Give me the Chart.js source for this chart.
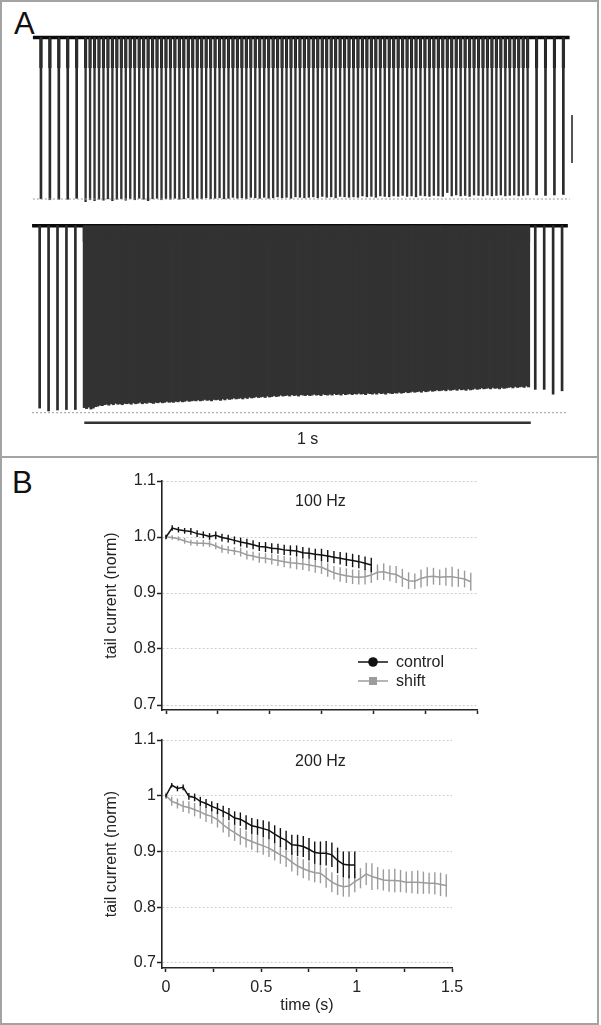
<!DOCTYPE html>
<html><head><meta charset="utf-8">
<script src="https://cdn.jsdelivr.net/npm/chart.js@4.4.0/dist/chart.umd.min.js"></script>
<style>
html,body{margin:0;padding:0;background:#fff;}
#fig{position:relative;width:601px;height:1025px;overflow:hidden;font-family:"Liberation Sans",Arial,sans-serif;}
#frame{position:absolute;left:0;top:0;width:595px;height:1021px;border:2px solid #a3a3a3;}
#divider{position:absolute;left:0;top:456px;width:599px;height:2px;background:#a3a3a3;}
.lbl{position:absolute;font-size:31px;line-height:30px;color:#111;}
canvas{position:absolute;left:0;}
</style></head>
<body>
<div id="fig">
  <div id="frame"></div><div id="divider"></div>
  <div class="lbl" style="left:14px;top:9px">A</div>
  <div class="lbl" style="left:12px;top:468px">B</div>
  <canvas id="a1" width="601" height="215" style="top:0px"></canvas>
  <canvas id="a2" width="601" height="242" style="top:215px"></canvas>
  <canvas id="b1" width="601" height="278" style="top:457px"></canvas>
  <canvas id="b2" width="601" height="305" style="top:720px"></canvas>
</div>
<script>
// ---------------- DATA ----------------
// Panel A: current traces (amplitudes in scale-bar units, baseline = 0)
const periodTop = 0.01;      // 100 Hz train
const periodBottom = 0.005;  // 200 Hz train
const preTimes = [-0.10, -0.08, -0.06, -0.04, -0.02];
const postTimes = [1.01, 1.03, 1.05, 1.07];

const preTop = [-3.36, -3.38, -3.37, -3.37, -3.35];
const trainTop = [
  -3.42,-3.38,-3.40,-3.37,-3.39,-3.36,-3.40,-3.37,-3.36,-3.39,
  -3.36,-3.38,-3.35,-3.37,-3.40,-3.36,-3.35,-3.38,-3.36,-3.37,
  -3.35,-3.37,-3.36,-3.34,-3.37,-3.35,-3.36,-3.34,-3.36,-3.35,
  -3.34,-3.36,-3.35,-3.33,-3.35,-3.34,-3.36,-3.33,-3.34,-3.35,
  -3.33,-3.35,-3.34,-3.32,-3.34,-3.33,-3.35,-3.32,-3.33,-3.34,
  -3.33,-3.32,-3.34,-3.31,-3.33,-3.32,-3.34,-3.31,-3.32,-3.33,
  -3.32,-3.33,-3.30,-3.32,-3.31,-3.33,-3.30,-3.31,-3.32,-3.30,
  -3.31,-3.29,-3.31,-3.30,-3.32,-3.29,-3.30,-3.31,-3.29,-3.30,
  -3.31,-3.23,-3.30,-3.28,-3.30,-3.29,-3.31,-3.28,-3.29,-3.30,
  -3.28,-3.30,-3.29,-3.28,-3.30,-3.29,-3.28,-3.30,-3.29,-3.28
];
const postTop = [-3.28, -3.29, -3.28, -3.27];
const refTop = -3.365;
const tailTop = -0.63;

const preBottom = [-3.80, -3.86, -3.84, -3.83, -3.83];
const trainBottom = [
  -3.79,-3.81,-3.78,-3.82,-3.80,-3.77,-3.76,-3.74,-3.75,-3.73,
  -3.72,-3.74,-3.71,-3.73,-3.70,-3.72,-3.71,-3.73,-3.70,-3.71,
  -3.70,-3.72,-3.69,-3.71,-3.70,-3.68,-3.71,-3.69,-3.70,-3.68,
  -3.69,-3.70,-3.68,-3.69,-3.67,-3.69,-3.68,-3.66,-3.68,-3.67,
  -3.68,-3.66,-3.67,-3.65,-3.67,-3.66,-3.64,-3.66,-3.65,-3.64,
  -3.65,-3.63,-3.65,-3.64,-3.62,-3.64,-3.63,-3.65,-3.62,-3.63,
  -3.62,-3.64,-3.61,-3.63,-3.60,-3.62,-3.61,-3.59,-3.61,-3.60,
  -3.59,-3.61,-3.58,-3.60,-3.57,-3.59,-3.58,-3.56,-3.58,-3.57,
  -3.56,-3.58,-3.55,-3.57,-3.56,-3.54,-3.56,-3.55,-3.53,-3.55,
  -3.54,-3.53,-3.55,-3.52,-3.54,-3.53,-3.55,-3.52,-3.53,-3.54,
  -3.52,-3.54,-3.53,-3.51,-3.53,-3.52,-3.54,-3.51,-3.52,-3.53,
  -3.51,-3.53,-3.50,-3.52,-3.51,-3.53,-3.50,-3.52,-3.51,-3.50,
  -3.52,-3.50,-3.51,-3.49,-3.51,-3.50,-3.52,-3.49,-3.50,-3.51,
  -3.49,-3.51,-3.48,-3.50,-3.49,-3.51,-3.48,-3.49,-3.50,-3.48,
  -3.49,-3.47,-3.49,-3.48,-3.46,-3.48,-3.47,-3.45,-3.47,-3.46,
  -3.45,-3.47,-3.44,-3.46,-3.45,-3.43,-3.45,-3.44,-3.42,-3.44,
  -3.43,-3.42,-3.44,-3.41,-3.43,-3.42,-3.41,-3.43,-3.40,-3.42,
  -3.41,-3.43,-3.40,-3.42,-3.41,-3.39,-3.41,-3.40,-3.38,-3.40,
  -3.39,-3.38,-3.40,-3.37,-3.39,-3.38,-3.40,-3.37,-3.39,-3.38,
  -3.37,-3.36,-3.38,-3.35,-3.37,-3.36,-3.35,-3.37,-3.34,-3.36
];
const postBottom = [-3.41, -3.41, -3.51, -3.44];
const refBottom = -3.896;
const tailBottom = -0.33;

const traceSpanTop = [-0.118, 1.084];
const traceSpanBottom = [-0.117, 1.083];
const currentBar = [-1.615, -2.615];   // one scale unit
const timeBar = [0, 1];                 // 1 s

// Panel B: normalized tail currents
const times = [0,0.03,0.06,0.09,0.12,0.15,0.18,0.21,0.24,0.27,0.30,0.33,0.36,0.39,0.42,0.45,0.48,0.51,0.54,0.57,
  0.60,0.63,0.66,0.69,0.72,0.75,0.78,0.81,0.84,0.87,0.90,0.93,0.96,0.99,1.02,1.05,1.08,1.11,1.14,1.17,
  1.20,1.23,1.26,1.29,1.32,1.35,1.38,1.41,1.44,1.47];

const control100 = [1.000,1.016,1.013,1.011,1.010,1.006,1.004,1.001,1.003,0.999,0.997,0.994,0.991,0.989,0.986,0.983,0.982,
  0.980,0.979,0.977,0.976,0.975,0.972,0.971,0.969,0.968,0.966,0.964,0.962,0.960,0.958,0.956,0.953,0.950];
const control100Err = [0.004,0.005,0.005,0.005,0.006,0.006,0.006,0.006,0.007,0.007,0.007,0.007,0.008,0.008,0.008,0.008,0.009,
  0.009,0.009,0.009,0.009,0.010,0.010,0.010,0.010,0.011,0.011,0.011,0.011,0.012,0.012,0.012,0.012,0.013];
const shift100 = [1.000,0.999,0.997,0.993,0.990,0.989,0.989,0.988,0.984,0.979,0.977,0.975,0.973,0.968,0.966,0.963,0.962,
  0.960,0.958,0.956,0.954,0.953,0.952,0.950,0.948,0.946,0.941,0.936,0.933,0.931,0.929,0.928,0.929,0.932,0.937,0.938,
  0.935,0.933,0.927,0.922,0.921,0.926,0.929,0.930,0.928,0.929,0.929,0.927,0.925,0.920];
const shift100Err = [0.003,0.004,0.004,0.005,0.005,0.005,0.006,0.006,0.006,0.007,0.007,0.007,0.008,0.008,0.008,0.009,0.009,
  0.009,0.010,0.010,0.010,0.011,0.011,0.011,0.012,0.012,0.012,0.012,0.013,0.013,0.013,0.013,0.014,0.014,0.014,0.015,
  0.014,0.015,0.016,0.015,0.014,0.016,0.017,0.015,0.014,0.016,0.018,0.016,0.015,0.016];

const control200 = [1.000,1.019,1.013,1.015,0.999,0.997,0.990,0.986,0.981,0.977,0.972,0.967,0.960,0.958,0.952,0.946,0.944,
  0.941,0.938,0.931,0.925,0.920,0.912,0.911,0.909,0.904,0.898,0.897,0.897,0.894,0.884,0.877,0.876,0.876];
const control200Err = [0.003,0.004,0.005,0.005,0.006,0.007,0.008,0.008,0.009,0.010,0.010,0.011,0.012,0.012,0.013,0.014,0.014,
  0.015,0.016,0.016,0.017,0.017,0.018,0.019,0.019,0.020,0.020,0.021,0.022,0.022,0.023,0.023,0.024,0.024];
const shift200 = [1.000,0.990,0.986,0.981,0.979,0.975,0.971,0.966,0.963,0.957,0.948,0.940,0.934,0.927,0.922,0.918,0.914,
  0.910,0.906,0.900,0.894,0.889,0.881,0.874,0.869,0.865,0.862,0.861,0.853,0.845,0.840,0.837,0.838,0.846,0.852,0.860,
  0.855,0.852,0.849,0.848,0.848,0.847,0.845,0.845,0.845,0.844,0.843,0.843,0.841,0.839];
const shift200Err = [0.006,0.008,0.009,0.010,0.011,0.012,0.012,0.013,0.013,0.014,0.014,0.014,0.015,0.015,0.015,0.015,0.016,
  0.016,0.016,0.016,0.016,0.017,0.017,0.017,0.017,0.017,0.017,0.018,0.018,0.018,0.018,0.018,0.019,0.019,0.018,0.020,
  0.024,0.020,0.019,0.020,0.021,0.020,0.019,0.020,0.021,0.020,0.019,0.020,0.021,0.020];

const yTicks = [0.7, 0.8, 0.9, 1.0, 1.1];
const yTickLabelsTop = ['0.7', '0.8', '0.9', '1.0', '1.1'];
const yTickLabelsBottom = ['0.7', '0.8', '0.9', '1', '1.1'];
const xTicks = [0, 0.25, 0.5, 0.75, 1.0, 1.25, 1.5];
const xTickLabels = ['0', '', '0.5', '', '1', '', '1.5'];
const seriesNames = ['control', 'shift'];

// ---------------- STYLE / PLUGINS ----------------
const FONT = "'Liberation Sans', Arial, sans-serif";
Chart.defaults.font.family = FONT;
Chart.defaults.color = '#222';

const textPlugin = {
  id: 'texts',
  afterDraw(chart, args, opts) {
    const {ctx} = chart; const xs = chart.scales.x, ys = chart.scales.y;
    (opts.items || []).forEach(it => {
      ctx.save();
      ctx.font = (it.size || 16) + 'px ' + FONT;
      ctx.fillStyle = '#222'; ctx.textAlign = 'center'; ctx.textBaseline = 'middle';
      ctx.fillText(it.text, xs.getPixelForValue(it.x), ys.getPixelForValue(it.y));
      ctx.restore();
    });
  }
};

const errorBars = {
  id: 'errorBars',
  afterDatasetDraw(chart, args) {
    const ds = chart.data.datasets[args.index];
    if (!ds.errors) return;
    const {ctx} = chart; const xs = chart.scales.x, ys = chart.scales.y;
    ctx.save();
    ctx.strokeStyle = ds.borderColor; ctx.lineWidth = 1.4;
    ds.data.forEach((p, j) => {
      const e = ds.errors[j]; const px = xs.getPixelForValue(p.x);
      ctx.beginPath();
      ctx.moveTo(px, ys.getPixelForValue(p.y - e));
      ctx.lineTo(px, ys.getPixelForValue(p.y + e));
      ctx.stroke();
    });
    ctx.restore();
  }
};

const insetLegend = {
  id: 'insetLegend',
  afterDraw(chart, args, opts) {
    if (!opts.show) return;
    const {ctx} = chart; let y = opts.y;
    chart.data.datasets.forEach(ds => {
      ctx.save();
      ctx.strokeStyle = ds.borderColor; ctx.fillStyle = ds.borderColor; ctx.lineWidth = 1.5;
      ctx.beginPath(); ctx.moveTo(opts.x, y); ctx.lineTo(opts.x + 30, y); ctx.stroke();
      const cx = opts.x + 15;
      if (ds.pointStyle === 'rect') ctx.fillRect(cx - 4, y - 4, 8, 8);
      else { ctx.beginPath(); ctx.arc(cx, y, 4.8, 0, Math.PI * 2); ctx.fill(); }
      ctx.fillStyle = '#222'; ctx.font = '16px ' + FONT; ctx.textAlign = 'left'; ctx.textBaseline = 'middle';
      ctx.fillText(ds.label, opts.x + 38, y + 1);
      ctx.restore();
      y += 19;
    });
  }
};

// ---------------- PANEL A ----------------
function spikeBars(times, amps, color, thick) {
  return {type: 'bar', grouped: false, barThickness: thick, backgroundColor: color, borderWidth: 0,
    data: amps.map((a, i) => ({x: times[i], y: [a, 0]}))};
}
function tailBars(times, depth, color, thick) {
  return {type: 'bar', grouped: false, barThickness: thick, backgroundColor: color, borderWidth: 0,
    data: times.map(t => ({x: t, y: [depth, 0]}))};
}
function lineSeg(pts, color, width, dash) {
  return {type: 'line', data: pts, borderColor: color, borderWidth: width, borderDash: dash || [],
    pointRadius: 0, fill: false, borderCapStyle: 'butt'};
}
function traceChart(id, cfg) {
  const trainTimes = cfg.train.map((a, i) => i * cfg.period);
  const allTimes = preTimes.concat(trainTimes, postTimes);
  const datasets = [
    lineSeg([{x: cfg.span[0], y: cfg.ref}, {x: cfg.span[1], y: cfg.ref}], '#9a9a9a', 1, [2, 2]),
    spikeBars(trainTimes, cfg.train, cfg.trainColor, cfg.trainThick),
    spikeBars(preTimes, cfg.pre, '#2b2b2b', 2),
    spikeBars(postTimes, cfg.post, '#2b2b2b', 2),
    tailBars(cfg.tailAll ? allTimes : trainTimes, cfg.tail, '#0a0a0a', cfg.tailThick),
    lineSeg([{x: cfg.span[0], y: 0}, {x: cfg.span[1], y: 0}], '#0a0a0a', 3.5)
  ].concat(cfg.extra);
  return new Chart(document.getElementById(id), {
    type: 'bar',
    data: {datasets},
    options: {
      responsive: false, animation: false, devicePixelRatio: 1,
      layout: {padding: 0},
      plugins: {legend: {display: false}, tooltip: {enabled: false}, texts: {items: cfg.texts || []}},
      scales: {
        x: {type: 'linear', display: false, offset: false, min: cfg.xmin, max: cfg.xmax},
        y: {type: 'linear', display: false, min: cfg.ymin, max: cfg.ymax}
      }
    },
    plugins: [textPlugin]
  });
}

traceChart('a1', {
  period: periodTop, train: trainTop, pre: preTop, post: postTop, ref: refTop, tail: tailTop,
  span: traceSpanTop, trainColor: '#333333', trainThick: 1.7, tailThick: 2.4, tailAll: true,
  xmin: -85.6 / 446.5, xmax: (601 - 85.6) / 446.5, ymin: -177.5 / 48, ymax: 37.5 / 48,
  extra: [lineSeg([{x: 1.0894, y: currentBar[0]}, {x: 1.0894, y: currentBar[1]}], '#555', 2)]
});
traceChart('a2', {
  period: periodBottom, train: trainBottom, pre: preBottom, post: postBottom, ref: refBottom, tail: tailBottom,
  span: traceSpanBottom, trainColor: '#323232', trainThick: 2.4, tailThick: 2.4, tailAll: false,
  xmin: -84.3 / 446.5, xmax: (601 - 84.3) / 446.5, ymin: -231.3 / 48, ymax: 10.7 / 48,
  extra: [lineSeg([{x: timeBar[0], y: -4.104}, {x: timeBar[1], y: -4.104}], '#333', 2.5)],
  texts: [{text: '1 s', x: 0.5, y: -4.465, size: 16}]
});

// ---------------- PANEL B ----------------
function rateChart(id, cfg) {
  const ctrl = cfg.control.map((v, i) => ({x: times[i], y: v}));
  const shf = cfg.shift.map((v, i) => ({x: times[i], y: v}));
  return new Chart(document.getElementById(id), {
    type: 'line',
    data: {datasets: [
      {label: seriesNames[0], data: ctrl, errors: cfg.controlErr, borderColor: '#111', borderWidth: 1.5,
       pointRadius: 0, pointStyle: 'circle', order: 0},
      {label: seriesNames[1], data: shf, errors: cfg.shiftErr, borderColor: '#9c9c9c', borderWidth: 1.5,
       pointRadius: 0, pointStyle: 'rect', order: 1}
    ]},
    options: {
      responsive: false, animation: false, devicePixelRatio: 1,
      layout: {padding: {left: 0, top: cfg.padTop, right: cfg.padRight, bottom: 0}},
      plugins: {legend: {display: false}, tooltip: {enabled: false},
        texts: {items: [{text: cfg.title, x: cfg.titleX, y: cfg.titleY}]},
        insetLegend: cfg.legend},
      scales: {
        x: {type: 'linear', min: cfg.xmin, max: 1.5,
          afterBuildTicks: s => { s.ticks = xTicks.map(v => ({value: v})); },
          afterFit: s => { s.height = cfg.xHeight; s.paddingLeft = 0; s.paddingRight = 0; s.paddingTop = 0; s.paddingBottom = 0; },
          ticks: {font: {size: 16}, padding: 6, maxRotation: 0, autoSkip: false, color: '#222',
            callback: (v, i) => cfg.showX ? xTickLabels[i] : ''},
          grid: {drawOnChartArea: false, drawTicks: true, tickLength: 4, tickWidth: 1.5, tickColor: '#222'},
          border: {display: true, color: '#222', width: 1.6},
          title: {display: cfg.showX, text: 'time (s)', font: {size: 16}, color: '#222', padding: {top: 0, bottom: 9.4}}
        },
        y: {type: 'linear', min: cfg.ymin, max: 1.1,
          afterBuildTicks: s => { s.ticks = yTicks.map(v => ({value: v})); },
          afterFit: s => { s.width = 162; s.paddingLeft = 0; s.paddingRight = 0; s.paddingTop = 0; s.paddingBottom = 0; },
          ticks: {font: {size: 16}, padding: 1, color: '#222', callback: (v, i) => cfg.yLabels[i]},
          grid: {color: '#cdcdcd', lineWidth: 1, tickLength: 5, tickWidth: 1.5, tickColor: '#222', tickBorderDash: []},
          border: {display: true, color: '#222', width: 1.6, dash: [2, 2]},
          title: {display: true, text: 'tail current (norm)', font: {size: 16}, color: '#222', padding: {top: 102.4, bottom: 0}}
        }
      }
    },
    plugins: [errorBars, textPlugin, insetLegend]
  });
}

rateChart('b1', {
  control: control100, controlErr: control100Err, shift: shift100, shiftErr: shift100Err,
  padTop: 24, padRight: 124, xHeight: 25, xmin: -4 / 207.3, ymin: 0.7 - 5 / 560,
  yLabels: yTickLabelsTop, showX: false, title: '100 Hz', titleX: 0.745, titleY: 1.0625,
  legend: {show: true, x: 358, y: 205}
});
rateChart('b2', {
  control: control200, controlErr: control200Err, shift: shift200, shiftErr: shift200Err,
  padTop: 20, padRight: 149, xHeight: 57, xmin: -4 / 190.7, ymin: 0.7 - 5 / 557.5,
  yLabels: yTickLabelsBottom, showX: true, title: '200 Hz', titleX: 0.81, titleY: 1.0605,
  legend: {show: false}
});
</script>
</body></html>
